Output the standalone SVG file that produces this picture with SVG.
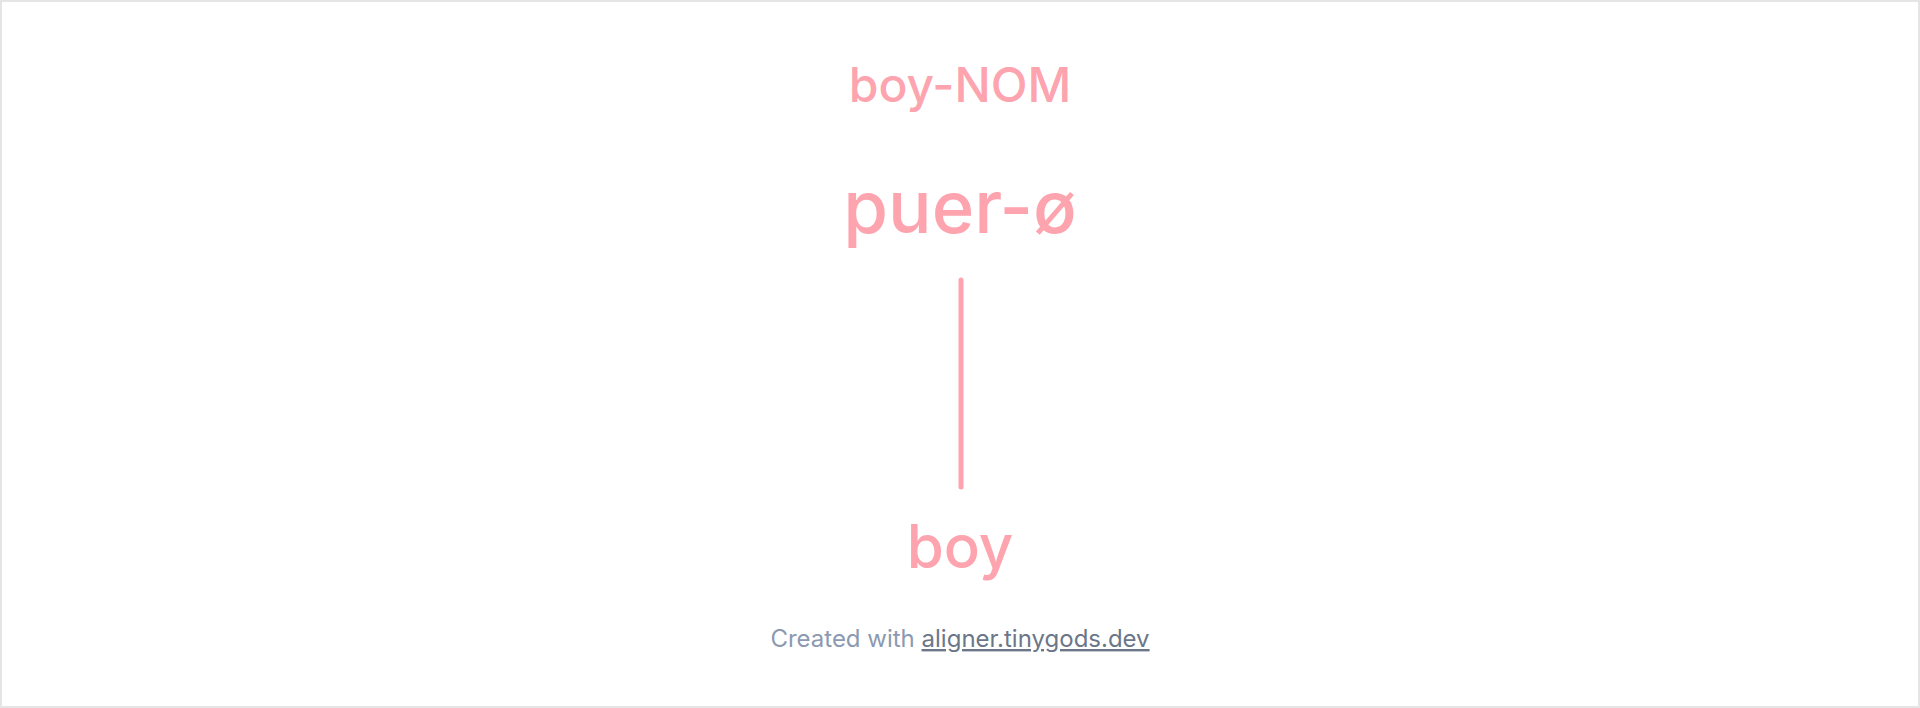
<svg xmlns="http://www.w3.org/2000/svg" width="1920" height="708" viewBox="0 0 1920 708">
<style>
.w{font-family:Inter,"Noto Sans","Liberation Sans",sans-serif;fill:#fda4af;text-anchor:middle;font-weight:500}
.f{font-family:Inter,"Noto Sans","Liberation Sans",sans-serif;font-size:24px;text-anchor:middle;fill:#8b9ab0}
</style>
<rect x="1" y="1" width="1918" height="706" fill="#ffffff" stroke="#e5e5e5" stroke-width="2"/>
<g id="gloss"><text class="w" x="960" y="102" font-size="48">boy-NOM</text></g>
<g id="source"><text class="w" x="960" y="233" font-size="72.5">puer-ø</text></g>
<g id="connectors"><line x1="961" y1="280" x2="961" y2="487" stroke="#fda4af" stroke-width="5" stroke-linecap="round"/></g>
<g id="target"><text class="w" x="960" y="568" font-size="60">boy</text></g>
<g id="footer"><text class="f" x="960" y="647">Created with <tspan fill="#6b7788" text-decoration="underline">aligner.tinygods.dev</tspan></text></g>
</svg>
